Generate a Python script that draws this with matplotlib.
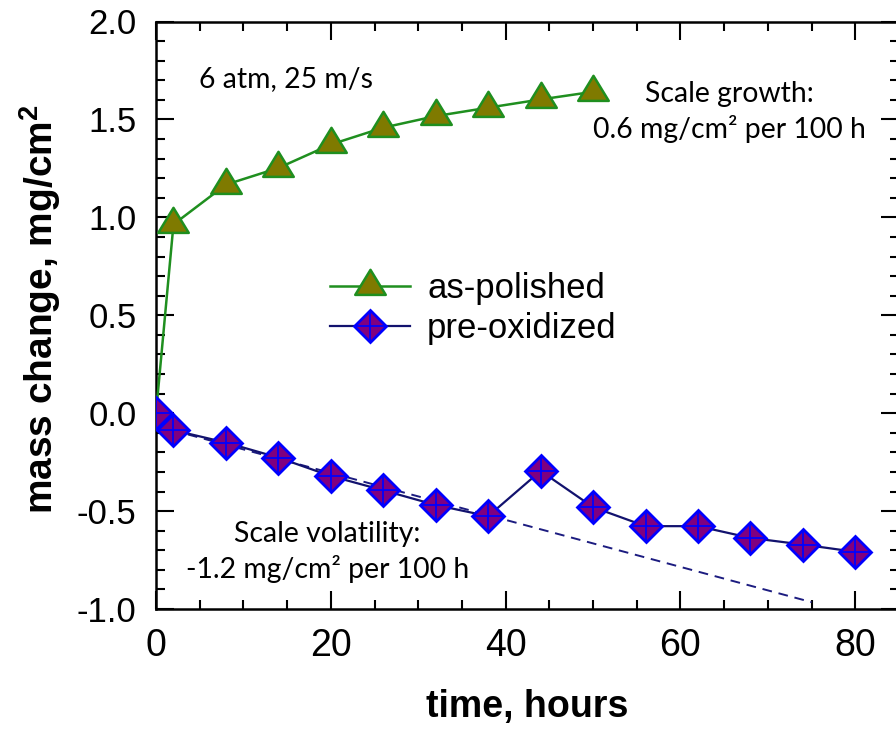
import matplotlib
matplotlib.use('Agg')
import matplotlib.pyplot as plt
from matplotlib.path import Path
from matplotlib.ticker import MultipleLocator, FormatStrFormatter

# ---- data ----
hours_polished = [0, 2, 8, 14, 20, 26, 32, 38, 44, 50]
mass_polished = [0.0, 0.964, 1.167, 1.252, 1.372, 1.458, 1.517, 1.560, 1.602, 1.641]

hours_preox = [0, 2, 8, 14, 20, 26, 32, 38, 44, 50, 56, 62, 68, 74, 80]
mass_preox = [0.0, -0.087, -0.150, -0.227, -0.321, -0.394, -0.469, -0.526,
              -0.295, -0.480, -0.577, -0.577, -0.637, -0.671, -0.708]

trend_hours = [0, 75]
trend_mass = [-0.065, -0.965]

series_labels = ['as-polished', 'pre-oxidized']
x_label = 'time, hours'
y_label = r'mass change, mg/cm$^\mathbf{2}$'
note_conditions = '6 atm, 25 m/s'
note_growth = ['Scale growth:', '0.6 mg/cm\u00b2 per 100 h']
note_volatility = ['Scale volatility:', '-1.2 mg/cm\u00b2 per 100 h']

# ---- style ----
plt.rcParams['font.family'] = ['Liberation Sans', 'DejaVu Sans']
plt.rcParams['axes.unicode_minus'] = False
plt.rcParams['mathtext.fontset'] = 'custom'
plt.rcParams['mathtext.rm'] = 'Liberation Sans'
plt.rcParams['mathtext.bf'] = 'Liberation Sans:bold'

fig = plt.figure(figsize=(8.96, 7.30), dpi=100)
ax = fig.add_axes([156 / 896, 121 / 730, 743 / 896, 587.5 / 730])
ax.set_xlim(0, 85)
ax.set_ylim(-1.0, 2.0)

green = '#1f8f1f'
olive = '#7f7a00'
navy = '#12126e'
blue = '#0000ff'
purple = '#800080'

tri = Path([(0, 1.31), (-1.2, -0.66), (1.2, -0.66), (0, 1.31)], closed=True)

l1, = ax.plot(hours_polished, mass_polished, color=green, lw=1.8,
              marker=tri, ms=24, mfc=olive, mec=green, mew=1.8, zorder=3)
ax.plot(trend_hours, trend_mass, color='#1c1c80', lw=1.4,
        ls=(0, (5, 3.5)), zorder=2)
l2, = ax.plot(hours_preox, mass_preox, color=navy, lw=1.6,
              marker='D', ms=16.5, mfc=purple, mec=blue, mew=2.0, zorder=4)
l3, = ax.plot(hours_preox, mass_preox, ls='none', marker='+', ms=22,
              mec=blue, mew=1.3, zorder=5)

ax.legend([l1, (l2, l3)], series_labels, loc='center left',
          bbox_to_anchor=(0.234, 0.5115), frameon=False, fontsize=25,
          handlelength=2.3, handletextpad=0.5, labelspacing=0.22,
          borderpad=0, borderaxespad=0)

ax.xaxis.set_major_locator(MultipleLocator(20))
ax.xaxis.set_minor_locator(MultipleLocator(5))
ax.yaxis.set_major_locator(MultipleLocator(0.5))
ax.yaxis.set_minor_locator(MultipleLocator(0.1))
ax.yaxis.set_major_formatter(FormatStrFormatter('%.1f'))

ax.tick_params(which='both', direction='in', top=True, right=True, width=1.5)
ax.tick_params(which='major', length=13, pad=14)
ax.tick_params(which='minor', length=6.5)
ax.tick_params(axis='x', which='major', labelsize=27)
ax.tick_params(axis='y', which='major', labelsize=25)
for s in ax.spines.values():
    s.set_linewidth(1.8)

ax.set_xlabel(x_label, fontsize=27, fontweight='bold')
ax.xaxis.set_label_coords(0.5, -0.137)
ax.set_ylabel(y_label, fontsize=28, fontweight='bold', va='center')
ax.yaxis.set_label_coords(-0.156, 0.51)

ann_font = ['Lato', 'DejaVu Sans']
texts = []
texts.append(ax.text(4.92, 1.667, note_conditions, ha='left', va='baseline',
                     family=ann_font, fontsize=20))
texts.append(ax.text(65.6, 1.589, note_growth[0], ha='center', va='baseline',
                     family=ann_font, fontsize=20))
ref = ax.text(65.6, 1.405, note_growth[1], ha='center', va='baseline',
              family=ann_font, fontsize=20)
texts.append(ref)
texts.append(ax.text(19.6, -0.657, note_volatility[0], ha='center',
                     va='baseline', family=ann_font, fontsize=20))
texts.append(ax.text(19.6, -0.841, note_volatility[1], ha='center',
                     va='baseline', family=ann_font, fontsize=20))

fig.canvas.draw()
r = fig.canvas.get_renderer()
w = ref.get_window_extent(r).width
scale = 273.0 / w
for t in texts:
    t.set_fontsize(20 * scale)

fig.savefig('out.png', dpi=100)
